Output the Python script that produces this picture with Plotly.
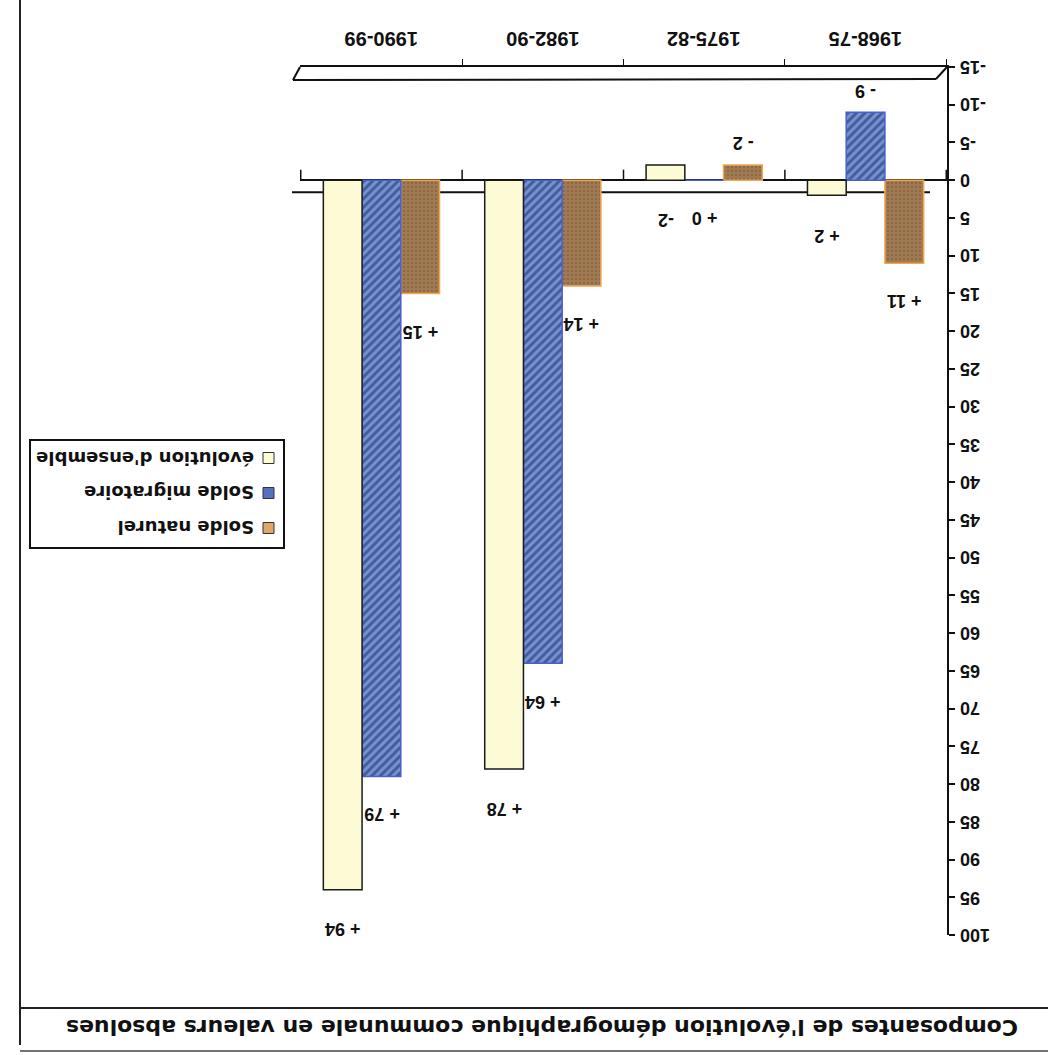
import plotly.graph_objects as go

# ---- data ----
periods = ["1968-75", "1975-82", "1982-90", "1990-99"]
solde_naturel = [11, -2, 14, 15]
solde_migratoire = [-9, 0, 64, 79]
evolution_ensemble = [2, -2, 78, 94]
labels_naturel = ["+ 11", "- 2", "+ 14", "+ 15"]
labels_migratoire = ["- 9", "+ 0", "+ 64", "+ 79"]
labels_ensemble = ["+ 2", "-2", "+ 78", "+ 94"]
series_names = ["Solde naturel", "Solde migratoire", "évolution d'ensemble"]
y_ticks = [-15, -10, -5, 0, 5, 10, 15, 20, 25, 30, 35, 40, 45, 50,
           55, 60, 65, 70, 75, 80, 85, 90, 95, 100]
title_text = "Composantes de l'évolution démographique communale en valeurs absolues"

W, H = 1048, 1055
L, R, T, B = 300, 947, 67, 935
FONT = "Liberation Sans"
WIDE = "DejaVu Sans"
INK = "#111"
BARGAP = 0.28


def px(x):
    return (x - L) / (R - L)


def py(y):
    return (B - y) / (B - T)


styles = [
    dict(marker=dict(color="#f3be80", line=dict(color="#efa64e", width=1.5),
                     pattern=dict(shape=".", fgcolor="#f6c88e", bgcolor="#4a2c18", size=4, solidity=0.85))),
    dict(marker=dict(color="#6f8fd6", line=dict(color="#4a5ed0", width=1.5),
                     pattern=dict(shape="/", fgcolor="#1c2450", bgcolor="#7393d8", size=6, solidity=0.5))),
    dict(marker=dict(color="#fcfbd6", line=dict(color="#1a1a1a", width=1.5))),
]
values = [solde_naturel, solde_migratoire, evolution_ensemble]
labels = [labels_naturel, labels_migratoire, labels_ensemble]

fig = go.Figure()
for name, vals, st in zip(series_names, values, styles):
    fig.add_trace(go.Bar(x=periods, y=vals, name=name, showlegend=False, **st))

annotations = []
shapes = []

# value labels
w = (1 - BARGAP) / 3
for k, (vals, labs) in enumerate(zip(values, labels)):
    for i, (v, lab) in enumerate(zip(vals, labs)):
        if k == 2:
            yv, shift = max(v, 0), -40
        else:
            yv, shift = (v, -38) if v >= 0 else (v, 22)
        annotations.append(dict(
            x=i + (k - 1) * w, y=yv, xref="x", yref="y", text=lab, showarrow=False,
            textangle=180, yshift=shift, xanchor="center", yanchor="middle",
            font=dict(family=FONT, size=18, color=INK, weight=700)))

# y tick labels (upside-down, left-aligned beside the axis)
for t in y_ticks:
    annotations.append(dict(x=px(R + 11), y=t, xref="paper", yref="y", text=str(t),
                            showarrow=False, textangle=180, xanchor="left", yanchor="middle",
                            font=dict(family=FONT, size=18, color=INK, weight=700)))

# category labels (upside-down, above the floor)
for i, p in enumerate(periods):
    annotations.append(dict(x=i, y=py(39), xref="x", yref="paper", text=p, showarrow=False,
                            textangle=180, xanchor="center", yanchor="middle",
                            font=dict(family=FONT, size=20, color=INK, weight=700)))

# title (rotated like the reference)
annotations.append(dict(x=px(542), y=py(1028), xref="paper", yref="paper", text=title_text,
                        showarrow=False, textangle=180, xanchor="center", yanchor="middle",
                        font=dict(family=WIDE, size=22, color=INK, weight=700)))

# custom legend (rotated)
legend_rows = [(458, 2), (493, 1), (528, 0)]
swatch_colors = ["#e0a868", "#5670c0", "#fcfbd6"]
for ypx, k in legend_rows:
    annotations.append(dict(x=px(256), y=py(ypx), xref="paper", yref="paper", xanchor="right",
                            yanchor="middle", text=series_names[k], showarrow=False, textangle=180,
                            font=dict(family=WIDE, size=18, color=INK, weight=700)))
    shapes.append(dict(type="rect", xref="paper", yref="paper",
                       x0=px(263), x1=px(274), y0=py(ypx - 5.5), y1=py(ypx + 5.5),
                       fillcolor=swatch_colors[k], line=dict(color="#333", width=1)))
shapes.append(dict(type="rect", xref="paper", yref="paper", x0=px(30), x1=px(284),
                   y0=py(440), y1=py(548), line=dict(color=INK, width=2), fillcolor="rgba(0,0,0,0)"))

# 3-D floor outline (second edge of the category-axis floor)
line_k = dict(color=INK, width=2)
shapes.append(dict(type="line", xref="paper", yref="paper", x0=px(293), x1=px(936),
                   y0=py(80), y1=py(79), line=line_k))
shapes.append(dict(type="line", xref="paper", yref="paper", x0=px(936), x1=px(R),
                   y0=py(79), y1=py(T), line=line_k))
shapes.append(dict(type="line", xref="paper", yref="paper", x0=px(293), x1=px(L),
                   y0=py(80), y1=py(T), line=line_k))
# back edge of the zero plane, behind the bars
shapes.append(dict(type="line", xref="paper", yref="y", x0=px(292), x1=px(930),
                   y0=1.6, y1=1.6, line=line_k, layer="below"))
# small ticks on the zero line at category boundaries
for i in range(len(periods) + 1):
    shapes.append(dict(type="line", xref="x", yref="y", x0=i - 0.5, x1=i - 0.5,
                       y0=0, y1=-1.4, line=dict(color=INK, width=1.5)))

# page frame
shapes.append(dict(type="line", xref="paper", yref="paper", x0=px(20), x1=px(20), y0=py(0), y1=py(1045),
                   line=dict(color="#222", width=2)))
shapes.append(dict(type="line", xref="paper", yref="paper", x0=px(20), x1=px(1048), y0=py(1008), y1=py(1008),
                   line=dict(color="#222", width=2)))
shapes.append(dict(type="line", xref="paper", yref="paper", x0=px(20), x1=px(1048), y0=py(1051), y1=py(1051),
                   line=dict(color="#444", width=1.5)))

fig.update_layout(
    width=W, height=H,
    margin=dict(l=L, r=W - R, t=T, b=H - B),
    paper_bgcolor="white", plot_bgcolor="white",
    barmode="group", bargap=BARGAP, bargroupgap=0,
    annotations=annotations, shapes=shapes,
    showlegend=False,
    xaxis=dict(type="category", autorange="reversed", side="top", showline=True,
               linecolor=INK, linewidth=2, ticks="outside", tickson="boundaries",
               ticklen=6, tickcolor=INK, showticklabels=False, showgrid=False),
    yaxis=dict(range=[100, -15], side="right", tickvals=y_ticks, showline=True,
               linecolor=INK, linewidth=2, ticks="outside", ticklen=6, tickcolor=INK, tickwidth=1.5,
               showticklabels=False, showgrid=False, zeroline=True, zerolinecolor=INK, zerolinewidth=1.5),
)

fig.write_html("out.html")
